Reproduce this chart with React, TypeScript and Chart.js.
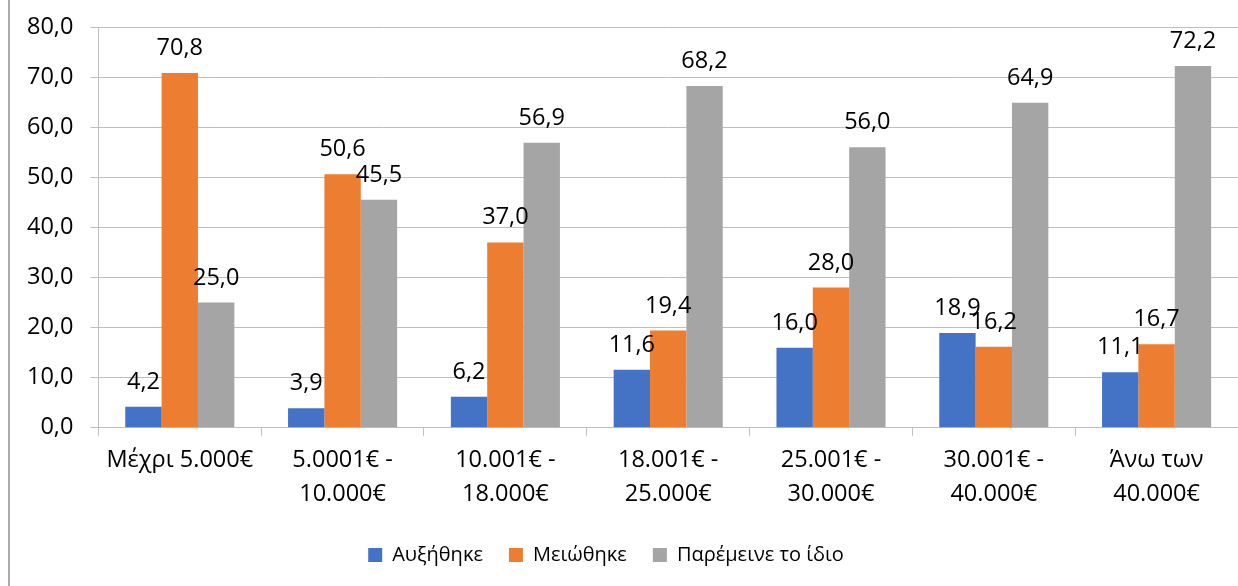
import React, { useEffect, useRef } from "react";
import { Chart, registerables } from "chart.js";

Chart.register(...registerables);

const categories: string[][] = [
  ["Μέχρι 5.000€"],
  ["5.0001€ -", "10.000€"],
  ["10.001€ -", "18.000€"],
  ["18.001€ -", "25.000€"],
  ["25.001€ -", "30.000€"],
  ["30.001€ -", "40.000€"],
  ["Άνω των", "40.000€"],
];

const seriesNames = ["Αυξήθηκε", "Μειώθηκε", "Παρέμεινε το ίδιο"];
const increased = [4.2, 3.9, 6.2, 11.6, 16.0, 18.9, 11.1];
const decreased = [70.8, 50.6, 37.0, 19.4, 28.0, 16.2, 16.7];
const same = [25.0, 45.5, 56.9, 68.2, 56.0, 64.9, 72.2];
const seriesColors = ["#4472C4", "#ED7D31", "#A5A5A5"];

const yMin = 0;
const yMax = 80;
const yStep = 10;

const FONT = "'Open Sans', 'Noto Sans', sans-serif";
const AXIS_SIZE = 23.5;
const LEGEND_SIZE = 20;
const fmt = (v: number) => v.toFixed(1).replace(".", ",");

const dataLabels = {
  id: "dataLabels",
  afterDatasetsDraw(chart: any) {
    const ctx = chart.ctx;
    ctx.save();
    ctx.font = `${AXIS_SIZE}px ${FONT}`;
    ctx.fillStyle = "#000000";
    ctx.textAlign = "center";
    ctx.textBaseline = "alphabetic";
    chart.data.datasets.forEach((ds: any, i: number) => {
      const meta = chart.getDatasetMeta(i);
      meta.data.forEach((bar: any, j: number) => {
        ctx.fillText(fmt(ds.data[j]), bar.x, bar.y - 18);
      });
    });
    ctx.restore();
  },
};

// shift the centred legend slightly to the left, as in the reference
const legendShift = {
  id: "legendShift",
  afterLayout(chart: any) {
    if (chart.legend) chart.legend.right -= 36;
  },
};

export default function App() {
  const ref = useRef<HTMLCanvasElement>(null);
  useEffect(() => {
    if (!ref.current) return;
    const allSeries = [increased, decreased, same];
    const chart = new Chart(ref.current, {
      type: "bar",
      data: {
        labels: categories,
        datasets: allSeries.map((d, i) => ({
          label: seriesNames[i],
          data: d,
          backgroundColor: seriesColors[i],
          borderWidth: 0,
          barPercentage: 1,
          categoryPercentage: 0.67,
        })),
      },
      options: {
        animation: false,
        responsive: false,
        maintainAspectRatio: false,
        layout: { padding: { top: 27, left: 10, right: 0, bottom: 11 } },
        plugins: {
          legend: {
            position: "bottom",
            labels: {
              font: { family: FONT, size: LEGEND_SIZE },
              color: "#000000",
              boxWidth: 14,
              boxHeight: 14,
              padding: 26,
            },
          },
          tooltip: { enabled: false },
        },
        scales: {
          x: {
            offset: true,
            grid: {
              offset: true,
              drawOnChartArea: false,
              drawTicks: true,
              tickLength: 8,
              color: "#BFBFBF",
            },
            border: { display: true, color: "#BFBFBF", width: 1 },
            ticks: {
              font: { family: FONT, size: AXIS_SIZE, lineHeight: 1.43 },
              color: "#000000",
              padding: 8,
              maxRotation: 0,
              autoSkip: false,
            },
          },
          y: {
            min: yMin,
            max: yMax,
            afterFit: (s: any) => {
              s.paddingTop = 0;
              s.paddingBottom = 0;
            },
            grid: {
              color: "#BFBFBF",
              tickLength: 8,
              drawTicks: true,
            },
            border: { display: true, color: "#BFBFBF", width: 1 },
            ticks: {
              stepSize: yStep,
              font: { family: FONT, size: AXIS_SIZE },
              color: "#000000",
              padding: 17,
              callback: (v: any) => fmt(Number(v)),
            },
          },
        },
      },
      plugins: [dataLabels, legendShift],
    });
    return () => chart.destroy();
  }, []);

  return (
    <div style={{ position: "absolute", left: 0, top: 0, width: 1238, height: 586, background: "#ffffff" }}>
      <canvas ref={ref} width={1238} height={586} style={{ display: "block" }} />
      <div style={{ position: "absolute", left: 8, top: 0, width: 2, height: 586, background: "#ABABAB" }} />
    </div>
  );
}
